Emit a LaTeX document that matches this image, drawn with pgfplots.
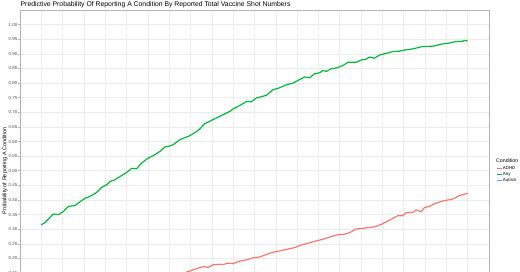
\documentclass[border=0pt]{standalone}
\usepackage{pgfplots}
\pgfplotsset{compat=1.18}
\usepackage{fontspec}
\setmainfont{Liberation Sans}
\definecolor{cadhd}{HTML}{F8766D}
\definecolor{cany}{HTML}{00BA38}
\definecolor{caut}{HTML}{619CFF}
\definecolor{gridmaj}{HTML}{EBEBEB}
\definecolor{bordc}{HTML}{B3B3B3}
\definecolor{tickc}{HTML}{4D4D4D}
\begin{document}
\begin{tikzpicture}
\begin{axis}[
  at={(20pt,-59.5pt)}, anchor=south west,
  scale only axis, width=469pt, height=321.5pt,
  xmin=-5, xmax=105, ymin=-0.05, ymax=1.05,
  xtick={0,5,...,100}, xticklabels={},
  ytick={0.15,0.2,...,1.0001},
  extra y ticks={0,0.05,0.1}, extra y tick labels={},
  extra y tick style={grid=major, major tick length=0pt},
  grid=major,
  major grid style={gridmaj, line width=0.6pt},
  axis line style={bordc, line width=0.6pt},
  tick align=outside, ytick pos=left, xtick pos=bottom,
  major tick length=1.6pt, minor tick length=0pt,
  tick style={bordc, line width=0.5pt},
  /pgf/number format/assume math mode=true,
  yticklabel style={/pgf/number format/.cd, fixed, fixed zerofill, precision=2},
  ticklabel style={font=\fontsize{4.4}{5}\selectfont, text=tickc, inner sep=1pt},
  ylabel={Probability of Reporting A Condition},
  ylabel style={at={(rel axis cs:-0.032,0.5)}, anchor=center, font=\fontsize{5.5}{6}\selectfont},
  legend style={at={(rel axis cs:1.015,0.515)}, anchor=north west, draw=none, fill=none,
    font=\fontsize{4.4}{5}\selectfont, inner sep=0pt, row sep=0.4pt,
    nodes={inner sep=0.4pt}},
  legend cell align=left,
  legend image code/.code={\draw[#1, line width=1.3pt] (0pt,0pt) -- (5pt,0pt);},
  clip=false,
]
\addplot[cadhd, line width=1.2pt] coordinates {
(31.31,0.140) (34.43,0.155) (35.60,0.161) (36.77,0.167) (37.94,0.172) (39.11,0.169)
(40.28,0.178) (41.85,0.180) (42.62,0.179) (43.79,0.184) (44.96,0.182) (46.53,0.191)
(48.10,0.195) (49.65,0.202) (51.22,0.205) (53.96,0.220) (56.30,0.227) (57.85,0.232)
(59.41,0.237) (60.98,0.246) (62.53,0.252) (64.50,0.260) (66.44,0.267) (68.01,0.275)
(69.56,0.281) (71.12,0.283) (72.30,0.288) (73.86,0.301) (75.41,0.303) (77.38,0.307)
(78.15,0.308) (78.92,0.312) (80.09,0.319) (81.26,0.328) (83.61,0.346) (84.78,0.346)
(85.57,0.357) (87.12,0.357) (87.90,0.366) (89.09,0.360) (89.86,0.374) (91.03,0.378)
(92.19,0.387) (93.77,0.395) (95.71,0.401) (96.49,0.403) (98.04,0.415) (100,0.423)
};
\addlegendentry{ADHD}
\addplot[cany, line width=1.2pt] coordinates {
(0.00,0.315) (0.87,0.323) (2.81,0.352) (3.98,0.350) (5.15,0.360) (6.32,0.378)
(7.89,0.381) (10.23,0.406) (11.41,0.412) (12.97,0.426) (14.15,0.443) (15.32,0.452)
(16.09,0.463) (17.26,0.469) (18.43,0.480) (20.00,0.494) (21.17,0.508) (22.34,0.507)
(23.51,0.526) (25.06,0.543) (26.63,0.555) (27.80,0.566) (28.97,0.581) (30.14,0.585)
(30.91,0.589) (32.48,0.606) (33.65,0.613) (34.83,0.620) (36.39,0.634) (37.17,0.643)
(38.34,0.661) (40.28,0.675) (41.85,0.686) (44.19,0.703) (44.96,0.711) (46.53,0.723)
(48.10,0.737) (49.27,0.736) (50.44,0.749) (51.22,0.752) (52.79,0.758) (54.33,0.777)
(55.90,0.784) (57.47,0.794) (59.02,0.800) (60.59,0.812) (61.76,0.821) (62.93,0.818)
(64.10,0.832) (65.27,0.835) (66.04,0.843) (66.84,0.840) (68.01,0.849) (69.56,0.853)
(70.73,0.860) (71.90,0.871) (73.86,0.871) (75.04,0.879) (76.21,0.882) (76.98,0.889)
(78.15,0.885) (79.32,0.896) (81.26,0.903) (82.44,0.908) (84.00,0.909) (85.18,0.913)
(87.12,0.917) (89.46,0.925) (91.80,0.926) (93.77,0.933) (95.71,0.937) (97.28,0.942)
(98.83,0.943) (99.23,0.946) (100,0.944)
};
\addlegendentry{Any}
\addlegendimage{caut}
\addlegendentry{Autism}
\node[anchor=west, inner sep=0pt, font=\fontsize{5.2}{6}\selectfont] at (rel axis cs:1.015,0.532) {Condition};
\node[anchor=west, inner sep=0pt, font=\fontsize{6.85}{7}\selectfont] at (rel axis cs:0.001,1.0156) {Predictive Probability Of Reporting A Condition By Reported Total Vaccine Shot Numbers};
\end{axis}
\pgfresetboundingbox
\path[use as bounding box] (0pt,0pt) rectangle (520pt,272pt);
\end{tikzpicture}
\end{document}
